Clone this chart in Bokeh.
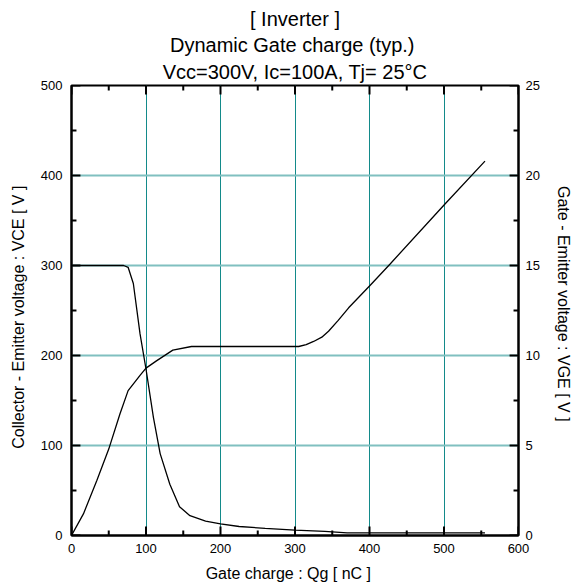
import math
from bokeh.plotting import figure
from bokeh.models import Range1d, LinearAxis, FixedTicker, Title, ColumnDataSource
from bokeh.embed import file_html
from bokeh.resources import INLINE

# ---- data ----
qg_vce = [0, 70, 76, 83, 92, 100, 110, 119, 132, 145, 159, 180, 200, 225, 260, 300, 340, 370, 450, 555]
vce = [300, 300, 298, 280, 224, 185, 131, 91, 57, 32, 22, 16, 13, 10, 8, 6, 4.5, 3, 3, 3]

qg_vge = [0, 16, 34, 50, 65, 76, 92, 100, 114, 136, 161, 305, 315, 325, 336, 345, 358, 372, 401, 428, 501, 555]
vge = [0, 1.2, 3.05, 4.8, 6.75, 8.05, 8.9, 9.3, 9.7, 10.3, 10.5, 10.5, 10.6, 10.78, 11.02, 11.35, 11.95, 12.65, 13.9, 15.1, 18.4, 20.8]

x_ticks = [0, 100, 200, 300, 400, 500, 600]
x_minor = [50, 150, 250, 350, 450, 550]
y_ticks = [0, 100, 200, 300, 400, 500]
y_minor = [50, 150, 250, 350, 450]
y2_ticks = [0, 5, 10, 15, 20, 25]
y2_minor = [2.5, 7.5, 12.5, 17.5, 22.5]
x_grid = [100, 200, 300, 400, 500]
y_grid = [100, 200, 300, 400]

title_lines = ["[ Inverter ]", "Dynamic Gate charge  (typ.)", "Vcc=300V, Ic=100A, Tj= 25\u00b0C"]
x_label = "Gate charge  :  Qg  [ nC ]"
y_label = "Collector - Emitter voltage  :  VCE  [ V ]"
y2_label = "Gate - Emitter voltage  :  VGE  [ V ]"

FONT = "Liberation Sans"
X0, X1, Y0, Y1 = 0, 600, 0, 500
Y2MAX = 25
FRAME_W, FRAME_H = 450, 450

p = figure(width=574, height=588, x_range=Range1d(X0, X1), y_range=Range1d(Y0, Y1),
           output_backend="svg", toolbar_location=None,
           min_border_left=71, min_border_right=53, min_border_top=85, min_border_bottom=53)
p.extra_y_ranges = {"vge": Range1d(0, Y2MAX)}
p.background_fill_color = "white"
p.outline_line_color = "black"
p.outline_line_width = 2


def style_axis(ax, ticks):
    ax.ticker = FixedTicker(ticks=ticks)
    ax.major_tick_in = 0
    ax.major_tick_out = 0
    ax.minor_tick_in = 0
    ax.minor_tick_out = 0
    ax.axis_line_color = "black"
    ax.axis_line_width = 2
    ax.major_label_text_font = FONT
    ax.major_label_text_font_size = "13px"
    ax.major_label_text_color = "black"
    ax.axis_label_text_font = FONT
    ax.axis_label_text_font_size = "16px"
    ax.axis_label_text_font_style = "normal"
    ax.axis_label_text_color = "black"


xa = p.xaxis[0]
style_axis(xa, x_ticks)
xa.axis_label = x_label
xa.major_label_standoff = 8
xa.axis_label_standoff = 9

ya = p.yaxis[0]
style_axis(ya, y_ticks)
ya.axis_label = y_label
ya.major_label_standoff = 9
ya.axis_label_standoff = 11

# right axis for VGE
ra = LinearAxis(y_range_name="vge")
style_axis(ra, y2_ticks)
ra.major_label_standoff = 7
ra.axis_label = y2_label
ra.axis_label_standoff = 12
p.add_layout(ra, "right")

# titles (added innermost first)
for t, so in zip(reversed(title_lines), [5, 2, 2]):
    p.add_layout(Title(text=t, align="center", text_font=FONT, text_font_size="20px",
                       text_font_style="normal", text_color="black", standoff=so), "above")

p.xgrid.ticker = FixedTicker(ticks=x_grid)
p.xgrid.grid_line_color = "#138a8a"
p.xgrid.grid_line_width = 1
p.ygrid.ticker = FixedTicker(ticks=y_grid)
p.ygrid.grid_line_color = "#80c0c0"
p.ygrid.grid_line_width = 2

# inward tick marks (drawn inside the frame)
MAJ_PX, MIN_PX = 9, 5
px_per_x = FRAME_W / (X1 - X0)
px_per_y = FRAME_H / (Y1 - Y0)
ky = (Y1 - Y0) / Y2MAX

tick_xs, tick_ys = [], []
for ticks, L in ((x_ticks, MAJ_PX), (x_minor, MIN_PX)):
    ly = L / px_per_y
    for t in ticks:
        tick_xs += [[t, t], [t, t]]
        tick_ys += [[Y0, Y0 + ly], [Y1, Y1 - ly]]
for left, right, L in ((y_ticks, y2_ticks, MAJ_PX), (y_minor, y2_minor, MIN_PX)):
    lx = L / px_per_x
    for t in left:
        tick_xs.append([X0, X0 + lx])
        tick_ys.append([t, t])
    for t in right:
        tick_xs.append([X1, X1 - lx])
        tick_ys.append([t * ky, t * ky])
p.multi_line(xs="xs", ys="ys", source=ColumnDataSource(dict(xs=tick_xs, ys=tick_ys)),
             line_color="black", line_width=2)

p.line(qg_vce, vce, line_color="black", line_width=1.3)
p.line(qg_vge, vge, y_range_name="vge", line_color="black", line_width=1.3)

open("out.html", "w").write(file_html(p, INLINE))
